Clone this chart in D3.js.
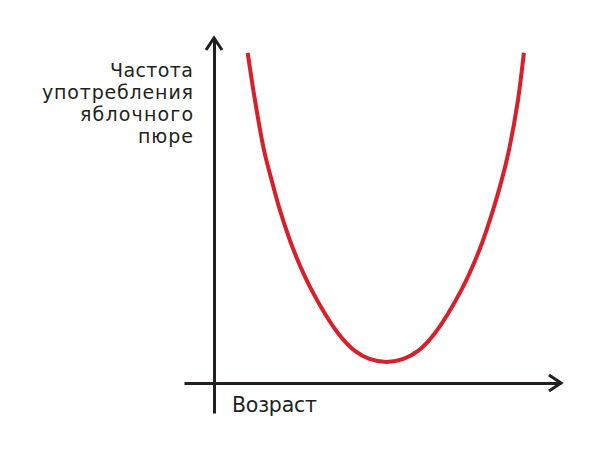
<!DOCTYPE html>
<html>
<head>
<meta charset="utf-8">
<script src="https://cdn.jsdelivr.net/npm/d3@7"></script>
<style>
  html, body { margin: 0; padding: 0; background: #fff; }
  svg { display: block; }
  text { font-family: "DejaVu Sans", sans-serif; fill: #231f20; }
</style>
</head>
<body>
<svg id="chart" width="604" height="463"></svg>
<script>
// Data (abstract units)
const curveX = [0.97, 1.18, 1.44, 1.66, 1.90, 2.29, 2.81, 3.57, 4.06, 4.48, 4.97, 5.46, 5.88, 6.37, 7.13, 7.65, 8.04, 8.29, 8.50, 8.76, 8.93];
const curveY = [9.57, 8.20, 6.75, 5.88, 5.01, 3.86, 2.70, 1.45, 0.93, 0.70, 0.61, 0.70, 0.93, 1.45, 2.70, 3.86, 5.01, 5.88, 6.75, 8.20, 9.57];
const yLabelLines = ["Частота", "употребления", "яблочного", "пюре"];
const yLabelWidths = [83, 151, 113, 55];
const xLabel = "Возраст";

const svg = d3.select("#chart");
const x = d3.scaleLinear().domain([-0.865, 10]).range([184, 561]);
const y = d3.scaleLinear().domain([-0.87, 10]).range([413, 38]);

const axisColor = "#231f20";

// x axis
const gx = svg.append("g")
  .attr("transform", `translate(0,${y(0)})`)
  .call(d3.axisBottom(x).tickValues([]).tickSizeOuter(0));
gx.select(".domain").attr("stroke", axisColor).attr("stroke-width", 3);

// y axis
const gy = svg.append("g")
  .attr("transform", `translate(${x(0)},0)`)
  .call(d3.axisLeft(y).tickValues([]).tickSizeOuter(0));
gy.select(".domain").attr("stroke", axisColor).attr("stroke-width", 3);

// arrowheads
const xTip = x.range()[1], yTip = y.range()[1];
svg.append("path")
  .attr("d", `M${xTip - 12},${y(0) - 8} L${xTip},${y(0)} L${xTip - 12},${y(0) + 8}`)
  .attr("fill", "none").attr("stroke", axisColor).attr("stroke-width", 3)
  .attr("stroke-linejoin", "miter");
svg.append("path")
  .attr("d", `M${x(0) - 8},${yTip + 12} L${x(0)},${yTip} L${x(0) + 8},${yTip + 12}`)
  .attr("fill", "none").attr("stroke", axisColor).attr("stroke-width", 3)
  .attr("stroke-linejoin", "miter");

// curve
const pts = curveX.map((d, i) => [d, curveY[i]]);
const line = d3.line().x(d => x(d[0])).y(d => y(d[1])).curve(d3.curveCatmullRom.alpha(0.5));
svg.append("path")
  .datum(pts)
  .attr("d", line)
  .attr("fill", "none")
  .attr("stroke", "#d7202a")
  .attr("stroke-width", 4);

// y label
yLabelLines.forEach((t, i) => {
  svg.append("text")
    .attr("text-anchor", "end")
    .attr("font-size", 19)
    .attr("x", 193).attr("y", 77 + i * 22)
    .attr("textLength", yLabelWidths[i])
    .attr("lengthAdjust", "spacing")
    .text(t);
});

// x label
svg.append("text")
  .attr("x", 232).attr("y", 412)
  .attr("font-size", 20.5)
  .attr("textLength", 85)
  .attr("lengthAdjust", "spacing")
  .text(xLabel);
</script>
</body>
</html>
